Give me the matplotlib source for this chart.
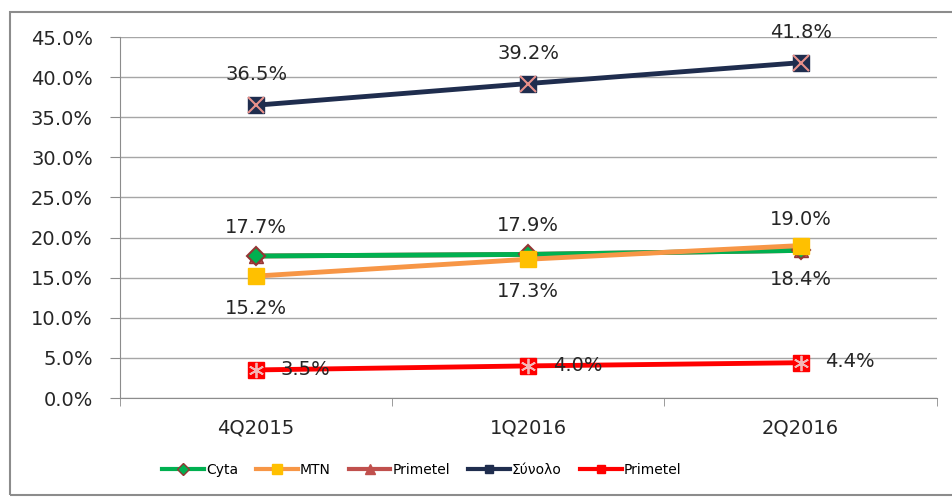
import matplotlib.pyplot as plt
from matplotlib.patches import Rectangle
from matplotlib.lines import Line2D
from matplotlib.ticker import FuncFormatter, FixedLocator

quarters = ['4Q2015', '1Q2016', '2Q2016']
cyta = [17.7, 17.9, 18.4]
mtn = [15.2, 17.3, 19.0]
primetel_tri = [17.7, 17.9, 18.4]
synolo = [36.5, 39.2, 41.8]
primetel = [3.5, 4.0, 4.4]

x = list(range(len(quarters)))

fig = plt.figure(figsize=(9.52, 4.98), dpi=100)
ax = fig.add_axes([0.126, 0.2008, 0.858, 0.7249])

# outer chart border
fig.patches.append(Rectangle((10 / 952, 3 / 498), 0.995, 0.970, transform=fig.transFigure,
                             fill=False, edgecolor='#8c8c8c', linewidth=1.5))

ax.plot(x, primetel_tri, color='#c0504d', lw=3.5, marker='^', ms=10,
        mfc='#c0504d', mec='#943634', zorder=2)
ax.plot(x, cyta, color='#00b050', lw=3.5, marker='D', ms=9,
        mfc='#00b050', mec='#943634', mew=1.5, zorder=3)
ax.plot(x, mtn, color='#f79646', lw=3.5, marker='s', ms=12,
        mfc='#ffc000', mec='#ffc000', zorder=4)
ax.plot(x, synolo, color='#1f2d4e', lw=3.5, zorder=5)
ax.plot(x, synolo, ls='none', marker='s', ms=12, mfc='#1f2d4e', mec='#1f2d4e', zorder=6)
ax.plot(x, synolo, ls='none', marker='x', ms=11, mec='#e8908a', mew=1.5, zorder=7)
ax.plot(x, primetel, color='#ff0000', lw=3.5, zorder=5)
ax.plot(x, primetel, ls='none', marker='s', ms=12, mfc='#ff0000', mec='#ff0000', zorder=6)
ax.plot(x, primetel, ls='none', marker=(6, 2, 0), ms=11, mec='#f4b6b6', mew=1.3, zorder=7)

fs = 14
lab = dict(fontsize=fs, color='#262626', ha='center', va='center', zorder=10)
for i in x:
    ax.text(i, synolo[i] + 3.8, f'{synolo[i]:.1f}%', **lab)
    ax.text(i + 0.18, primetel[i] + 0.1, f'{primetel[i]:.1f}%', **lab)
for i in [0, 1]:
    ax.text(i, cyta[i] + 3.6, f'{cyta[i]:.1f}%', **lab)
    ax.text(i, mtn[i] - 4.0, f'{mtn[i]:.1f}%', **lab)
ax.text(2, mtn[2] + 3.2, f'{mtn[2]:.1f}%', **lab)
ax.text(2, cyta[2] - 3.6, f'{cyta[2]:.1f}%', **lab)

ax.set_xlim(-0.5, 2.5)
ax.set_ylim(0, 45)
ax.set_yticks([i * 5 for i in range(10)])
ax.yaxis.set_major_formatter(FuncFormatter(lambda v, p: f'{v:.1f}%'))
ax.set_xticks(x)
ax.set_xticklabels(quarters)
ax.xaxis.set_minor_locator(FixedLocator([-0.5, 0.5, 1.5, 2.5]))
ax.tick_params(axis='x', which='major', length=0, pad=15, labelsize=fs, labelcolor='#262626')
ax.tick_params(axis='x', which='minor', length=6, color='#8c8c8c')
ax.tick_params(axis='y', length=7.5, color='#8c8c8c', pad=12, labelsize=fs, labelcolor='#262626')

ax.grid(axis='y', color='#a6a6a6', lw=1)
ax.set_axisbelow(True)
for s in ['top', 'right']:
    ax.spines[s].set_visible(False)
for s in ['left', 'bottom']:
    ax.spines[s].set_color('#8c8c8c')

handles = [
    Line2D([], [], color='#00b050', lw=3, marker='D', ms=6, mfc='#00b050', mec='#943634'),
    Line2D([], [], color='#f79646', lw=3, marker='s', ms=7, mfc='#ffc000', mec='#ffc000'),
    Line2D([], [], color='#c0504d', lw=3, marker='^', ms=7, mfc='#c0504d', mec='#c0504d'),
    Line2D([], [], color='#1f2d4e', lw=3, marker='s', ms=6, mfc='#1f2d4e', mec='#1f2d4e'),
    Line2D([], [], color='#ff0000', lw=3, marker='s', ms=6, mfc='#ff0000', mec='#ff0000'),
]
names = ['Cyta', 'MTN', 'Primetel', 'Σύνολο', 'Primetel']
fig.legend(handles, names, loc='center', bbox_to_anchor=(0.443, 0.056), ncol=5,
           frameon=False, fontsize=10, handlelength=3.0, handletextpad=0.15, columnspacing=1.3)

fig.savefig('out.png', dpi=100)
